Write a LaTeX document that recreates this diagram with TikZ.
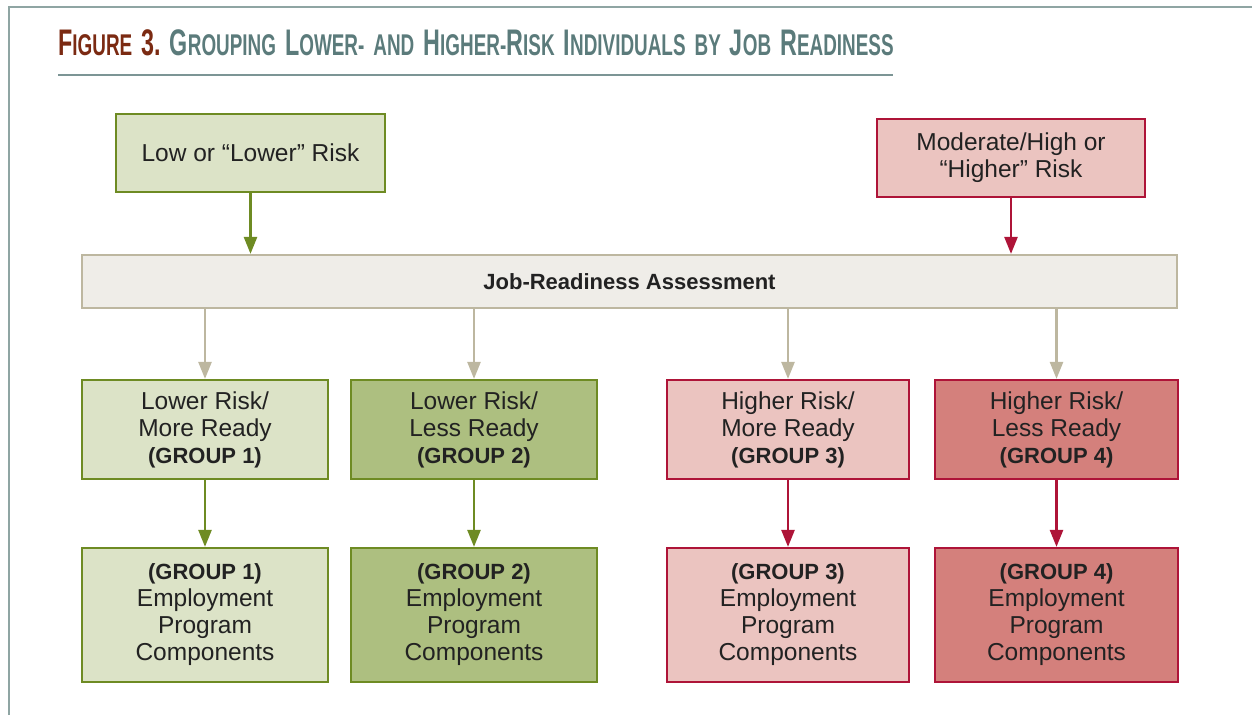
\documentclass[tikz,border=0pt]{standalone}
\usepackage{fontspec}
\setmainfont{Liberation Sans}
\newfontfamily\titlefont[FakeStretch=0.63]{Liberation Sans}
\usetikzlibrary{arrows.meta}
\definecolor{frameC}{HTML}{8FA5A3}
\definecolor{titleRed}{HTML}{7B2A12}
\definecolor{titleTeal}{HTML}{5B7B7B}
\definecolor{gLine}{HTML}{6E8B23}
\definecolor{rLine}{HTML}{AE1438}
\definecolor{gLight}{HTML}{DCE3C7}
\definecolor{gDark}{HTML}{ADBF80}
\definecolor{rLight}{HTML}{EBC4C0}
\definecolor{rDark}{HTML}{D4807C}
\definecolor{aFill}{HTML}{EFEDE8}
\definecolor{aLine}{HTML}{BDB7A0}
\definecolor{txt}{HTML}{222222}
\newcommand\BigL[1]{{\fontsize{37}{37}\selectfont #1}}
\newcommand\SmL[1]{{\fontsize{30}{30}\selectfont #1}}
\newcommand\WS{\hspace{9pt}}
\newcommand\Grp[1]{{\fontsize{22}{27}\selectfont\bfseries (GROUP #1)}}
\begin{document}
\begin{tikzpicture}[x=1pt,y=-1pt,
  box/.style={draw, line width=2.2pt, text=txt, align=center, inner sep=0pt,
    font=\fontsize{24.5}{27}\selectfont},
  gbox/.style={box, draw=gLine},
  rbox/.style={box, draw=rLine},
  tip/.style={-{Triangle[length=17pt,width=13pt]}, line width=2.5pt},
  garr/.style={tip, draw=gLine, color=gLine},
  rarr/.style={tip, draw=rLine, color=rLine},
  aarr/.style={tip, draw=aLine, color=aLine}]
\useasboundingbox (0,0) rectangle (1252,715);
% frame
\draw[frameC, line width=2.5pt] (9,715) -- (9,7) -- (1252,7);
% title
\node[anchor=base west, inner sep=0pt, font=\titlefont\bfseries] (title) at (58,55)
  {\textcolor{titleRed}{\BigL{F}\SmL{IGURE}\WS\BigL{3.}}\WS\textcolor{titleTeal}{\BigL{G}\SmL{ROUPING}\WS\BigL{L}\SmL{OWER-}\WS\SmL{AND}\WS\BigL{H}\SmL{IGHER-}\BigL{R}\SmL{ISK}\WS\BigL{I}\SmL{NDIVIDUALS}\WS\SmL{BY}\WS\BigL{J}\SmL{OB}\WS\BigL{R}\SmL{EADINESS}}};
\draw[titleTeal!80, line width=1.5pt] (58,75) -- (893,75);
% top boxes
\node[gbox, fill=gLight, minimum width=269pt, minimum height=78pt] (low) at (250.5,153) {Low or “Lower” Risk};
\node[rbox, fill=rLight, minimum width=268pt, minimum height=78pt] (mod) at (1011,158) {Moderate/High or\\“Higher” Risk};
% assessment
\node[box, draw=aLine, fill=aFill, minimum width=1095pt, minimum height=53pt, font=\fontsize{22}{27}\selectfont\bfseries] (assess) at (629.5,281.5) {Job-Readiness Assessment};
% row 1
\node[gbox, fill=gLight, minimum width=246pt, minimum height=99pt] (g1) at (205,429.5) {Lower Risk/\\More Ready\\\Grp{1}};
\node[gbox, fill=gDark, minimum width=246pt, minimum height=99pt] (g2) at (474,429.5) {Lower Risk/\\Less Ready\\\Grp{2}};
\node[rbox, fill=rLight, minimum width=242pt, minimum height=99pt] (g3) at (788,429.5) {Higher Risk/\\More Ready\\\Grp{3}};
\node[rbox, fill=rDark, minimum width=243pt, minimum height=99pt] (g4) at (1056.5,429.5) {Higher Risk/\\Less Ready\\\Grp{4}};
% row 2
\node[gbox, fill=gLight, minimum width=246pt, minimum height=134pt] (c1) at (205,615) {\Grp{1}\\Employment\\Program\\Components};
\node[gbox, fill=gDark, minimum width=246pt, minimum height=134pt] (c2) at (474,615) {\Grp{2}\\Employment\\Program\\Components};
\node[rbox, fill=rLight, minimum width=242pt, minimum height=134pt] (c3) at (788,615) {\Grp{3}\\Employment\\Program\\Components};
\node[rbox, fill=rDark, minimum width=243pt, minimum height=134pt] (c4) at (1056.5,615) {\Grp{4}\\Employment\\Program\\Components};
% arrows
\draw[garr] (low.south) -- (low.south |- assess.north);
\draw[rarr] (mod.south) -- (mod.south |- assess.north);
\foreach \g in {g1,g2,g3,g4}{\draw[aarr] (\g.north |- assess.south) -- (\g.north);}
\draw[garr] (g1.south) -- (c1.north);
\draw[garr] (g2.south) -- (c2.north);
\draw[rarr] (g3.south) -- (c3.north);
\draw[rarr] (g4.south) -- (c4.north);
\end{tikzpicture}
\end{document}
